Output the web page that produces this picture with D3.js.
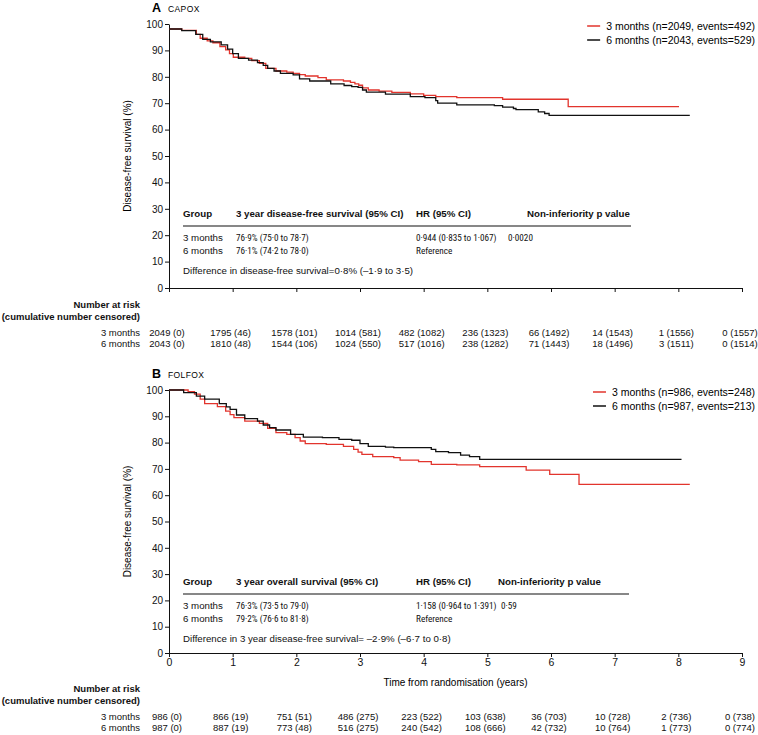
<!DOCTYPE html>
<html>
<head>
<meta charset="utf-8">
<script src="https://cdn.jsdelivr.net/npm/d3@7"></script>
<style>
  body { margin: 0; background: #fff; }
  svg { font-family: "Liberation Sans", Arial, sans-serif; }
</style>
</head>
<body>
<div id="chart"></div>
<script>
const W = 758, H = 735;

// axis ticks
const years = [0, 1, 2, 3, 4, 5, 6, 7, 8, 9];
const survTicks = [0, 10, 20, 30, 40, 50, 60, 70, 80, 90, 100];

const groups = ["3 months", "6 months"];
const colors = ["#e2342d", "#111111"];

// Kaplan-Meier curves: [years, % disease-free]
const capox3 = [[0,98.1],[0.2,97.6],[0.43,96.1],[0.49,94.6],[0.6,93.6],[0.69,92.9],[0.8,91.4],[0.89,90.2],[0.95,88.8],[1.01,87.4],[1.19,87.0],[1.3,86.1],[1.42,85.1],[1.52,83.2],[1.68,82.2],[1.85,81.8],[1.95,81.3],[2.05,80.8],[2.14,80.3],[2.34,79.7],[2.47,78.8],[2.74,78.4],[2.85,77.9],[2.92,77.3],[2.98,76.8],[3.04,75.8],[3.13,75.0],[3.3,74.6],[3.5,74.1],[3.79,73.5],[4.0,73.0],[4.19,72.5],[4.52,72.1],[5.24,71.5],[6.27,68.7],[8.01,68.7]];
const capox6 = [[0,98.1],[0.2,97.5],[0.42,96.1],[0.53,94.2],[0.65,93.2],[0.82,92.1],[0.92,90.5],[1.0,88.8],[1.09,87.0],[1.25,86.3],[1.39,85.4],[1.48,84.3],[1.55,83.2],[1.65,82.2],[1.75,81.3],[1.95,80.7],[2.05,79.2],[2.21,78.4],[2.54,77.3],[2.75,76.7],[2.87,76.3],[2.97,76.0],[3.04,75.0],[3.1,74.2],[3.4,73.4],[3.79,72.5],[4.02,72.1],[4.19,71.0],[4.22,70.0],[4.52,69.4],[5.11,69.1],[5.24,68.5],[5.41,68.0],[5.45,67.6],[5.8,66.7],[5.9,66.1],[5.97,65.4],[8.18,65.4]];
const folfox3 = [[0,100],[0.3,99.4],[0.4,98.4],[0.49,96.5],[0.56,94.8],[0.76,93.7],[0.89,92.0],[0.96,90.6],[1.02,89.5],[1.19,88.2],[1.42,87.3],[1.55,85.4],[1.68,83.8],[1.85,83.1],[1.98,81.9],[2.06,80.6],[2.14,79.6],[2.47,79.3],[2.74,78.6],[2.9,77.4],[2.97,76.4],[3.03,75.5],[3.2,74.7],[3.53,74.3],[3.63,73.3],[3.92,72.8],[4.12,71.7],[4.52,71.5],[4.88,70.9],[5.61,69.5],[5.98,67.9],[6.44,64.1],[8.18,64.1]];
const folfox6 = [[0,100],[0.23,99.0],[0.43,97.7],[0.56,96.5],[0.79,94.8],[0.9,93.6],[0.96,92.6],[1.06,90.5],[1.19,89.1],[1.39,88.2],[1.48,86.7],[1.58,85.7],[1.68,84.8],[1.91,83.1],[2.11,82.1],[2.41,81.9],[2.67,81.2],[2.87,80.9],[3.0,79.6],[3.13,78.6],[3.4,78.3],[3.53,78.1],[4.12,77.4],[4.19,76.6],[4.39,76.2],[4.58,75.2],[4.72,74.7],[4.88,73.6],[8.05,73.6]];

// legends
const legendCapox = ["3 months (n=2049, events=492)", "6 months (n=2043, events=529)"];
const legendFolfox = ["3 months (n=986, events=248)", "6 months (n=987, events=213)"];

// inset tables
const tableCols = ["Group", "HR (95% CI)", "Non-inferiority p value"];
const capoxHeader = "3 year disease-free survival (95% CI)";
const capoxSurv = ["76·9% (75·0 to 78·7)", "76·1% (74·2 to 78·0)"];
const capoxHR = ["0·944 (0·835 to 1·067)", "Reference"];
const capoxP = ["0·0020", ""];
const capoxDiff = "Difference in disease-free survival=0·8% (–1·9 to 3·5)";
const folfoxHeader = "3 year overall survival (95% CI)";
const folfoxSurv = ["76·3% (73·5 to 79·0)", "79·2% (76·6 to 81·8)"];
const folfoxHR = ["1·158 (0·964 to 1·391)", "Reference"];
const folfoxP = ["0·59", ""];
const folfoxDiff = "Difference in 3 year disease-free survival= –2·9% (–6·7 to 0·8)";

// number at risk (cumulative number censored)
const riskCapox3 = ["2049 (0)", "1795 (46)", "1578 (101)", "1014 (581)", "482 (1082)", "236 (1323)", "66 (1492)", "14 (1543)", "1 (1556)", "0 (1557)"];
const riskCapox6 = ["2043 (0)", "1810 (48)", "1544 (106)", "1024 (550)", "517 (1016)", "238 (1282)", "71 (1443)", "18 (1496)", "3 (1511)", "0 (1514)"];
const riskFolfox3 = ["986 (0)", "866 (19)", "751 (51)", "486 (275)", "223 (522)", "103 (638)", "36 (703)", "10 (728)", "2 (736)", "0 (738)"];
const riskFolfox6 = ["987 (0)", "887 (19)", "773 (48)", "516 (275)", "240 (542)", "108 (666)", "42 (732)", "10 (764)", "1 (773)", "0 (774)"];

const svg = d3.select("#chart").append("svg")
    .attr("width", W)
    .attr("height", H)
    .attr("viewBox", `0 0 ${W} ${H}`);

const x = d3.scaleLinear().domain([0, 9]).range([169, 742]);

function drawPanel(p) {
  const y = d3.scaleLinear().domain([0, 100]).range([p.bottom, p.top]);
  const g = svg.append("g");

  // panel letter + title
  g.append("text")
    .attr("x", 152).attr("y", p.top - 12.5)
    .attr("font-size", 12.5).attr("font-weight", "bold")
    .text(p.letter);
  g.append("text")
    .attr("x", 168).attr("y", p.top - 12.5)
    .attr("font-size", 8.5).attr("letter-spacing", 0.4)
    .text(p.title);

  // y axis
  const ya = g.append("g")
    .attr("transform", `translate(${x(0)},0)`)
    .call(d3.axisLeft(y).tickValues(survTicks).tickSize(4).tickSizeOuter(0).tickPadding(2));
  ya.selectAll("text").attr("font-size", 10).attr("fill", "#111");

  g.append("text")
    .attr("transform", `translate(131,${(p.top + p.bottom) / 2}) rotate(-90)`)
    .attr("text-anchor", "middle")
    .attr("font-size", 10)
    .text("Disease-free survival (%)");

  // x axis
  const xa = g.append("g")
    .attr("transform", `translate(0,${p.bottom})`)
    .call(d3.axisBottom(x).tickValues(years).tickSize(4).tickSizeOuter(0).tickPadding(2));
  xa.selectAll("text").attr("font-size", 10.5).attr("fill", "#111");
  if (!p.showYears) xa.selectAll("text").remove();
  g.selectAll(".domain, .tick line").attr("stroke", "#111");

  // curves
  const line = d3.line()
    .x(d => x(d[0]))
    .y(d => y(d[1]))
    .curve(d3.curveStepAfter);
  p.curves.forEach((c, i) => {
    g.append("path")
      .datum(c)
      .attr("fill", "none")
      .attr("stroke", colors[i])
      .attr("stroke-width", 1.3)
      .attr("d", line);
  });

  // legend, right aligned
  p.legend.forEach((txt, i) => {
    const ly = p.top + 2 + i * 14;
    const t = g.append("text")
      .attr("x", 755).attr("y", ly + 3.5)
      .attr("text-anchor", "end")
      .attr("font-size", 10.5)
      .text(txt);
    const bx = t.node().getBBox().x;
    g.append("line")
      .attr("x1", bx - 19).attr("x2", bx - 6)
      .attr("y1", ly).attr("y2", ly)
      .attr("stroke", colors[i])
      .attr("stroke-width", 1.5);
  });

  // inset table
  const tb = g.append("g").attr("font-size", 9.7).attr("fill", "#111");
  const heads = [[183, tableCols[0]], [236, p.header], [416, tableCols[1]], [p.pHead, tableCols[2]]];
  heads.forEach(h => {
    tb.append("text").attr("x", h[0]).attr("y", p.tableTop)
      .attr("font-weight", "bold").text(h[1]);
  });
  tb.append("line")
    .attr("x1", 183).attr("x2", p.ruleEnd)
    .attr("y1", p.tableTop + 9.5).attr("y2", p.tableTop + 9.5)
    .attr("stroke", "#111").attr("stroke-width", 1.2);
  const cols = [183, 236, 416, p.pCol];
  groups.forEach((grp, r) => {
    const ry = p.tableTop + 24.5 + r * 12.5;
    [grp, p.surv[r], p.hr[r], p.pval[r]].forEach((v, i) => {
      tb.append("text").attr("x", cols[i]).attr("y", ry)
        .attr("font-family", i === 0 ? null : '"Roboto Condensed", "Liberation Sans", sans-serif')
        .attr("font-size", i === 0 ? 9.7 : 9.2)
        .text(v);
    });
  });
  tb.append("text").attr("x", 183).attr("y", p.tableTop + 57).text(p.diff);

  // number at risk
  const rk = g.append("g").attr("font-size", 9.5).attr("fill", "#111");
  rk.append("text").attr("x", 140).attr("y", p.riskTop)
    .attr("text-anchor", "end").attr("font-weight", "bold").text("Number at risk");
  rk.append("text").attr("x", 140).attr("y", p.riskTop + 12.5)
    .attr("text-anchor", "end").attr("font-weight", "bold").text("(cumulative number censored)");
  p.risk.forEach((row, r) => {
    const ry = p.riskTop + 28 + r * 11.5;
    rk.append("text").attr("x", 140).attr("y", ry)
      .attr("text-anchor", "end").text(groups[r]);
    rk.selectAll(null)
      .data(row)
      .join("text")
        .attr("x", (d, i) => x(years[i]) - 2)
        .attr("y", ry)
        .attr("text-anchor", "middle")
        .text(d => d);
  });
}

drawPanel({
  letter: "A", title: "CAPOX", top: 24, bottom: 288, showYears: false,
  curves: [capox3, capox6], legend: legendCapox,
  header: capoxHeader, surv: capoxSurv, hr: capoxHR, pval: capoxP, diff: capoxDiff,
  pHead: 527, pCol: 508, ruleEnd: 631, tableTop: 216.5,
  risk: [riskCapox3, riskCapox6], riskTop: 307.5
});

drawPanel({
  letter: "B", title: "FOLFOX", top: 390, bottom: 653, showYears: true,
  curves: [folfox3, folfox6], legend: legendFolfox,
  header: folfoxHeader, surv: folfoxSurv, hr: folfoxHR, pval: folfoxP, diff: folfoxDiff,
  pHead: 498, pCol: 501, ruleEnd: 629, tableTop: 584.5,
  risk: [riskFolfox3, riskFolfox6], riskTop: 691.5
});

svg.append("text")
  .attr("x", (x(0) + x(9)) / 2)
  .attr("y", 686)
  .attr("text-anchor", "middle")
  .attr("font-size", 10)
  .text("Time from randomisation (years)");
</script>
</body>
</html>
